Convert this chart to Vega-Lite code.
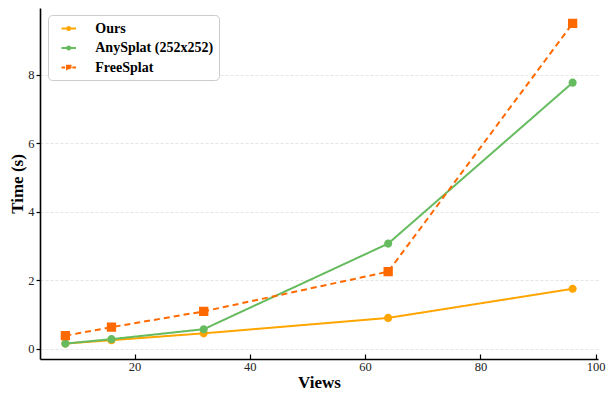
{
  "$schema": "https://vega.github.io/schema/vega-lite/v6.json",
  "autosize": "none",
  "width": 558,
  "height": 351,
  "padding": {"left": 40, "top": 8, "right": 10, "bottom": 35},
  "background": "white",
  "config": {
    "font": "Liberation Serif",
    "view": {"stroke": null}
  },
  "data": {
    "values": [
      {"views": 8, "time": 0.15, "method": "Ours"},
      {"views": 16, "time": 0.25, "method": "Ours"},
      {"views": 32, "time": 0.45, "method": "Ours"},
      {"views": 64, "time": 0.9, "method": "Ours"},
      {"views": 96, "time": 1.75, "method": "Ours"},
      {"views": 8, "time": 0.15, "method": "AnySplat (252x252)"},
      {"views": 16, "time": 0.28, "method": "AnySplat (252x252)"},
      {"views": 32, "time": 0.57, "method": "AnySplat (252x252)"},
      {"views": 64, "time": 3.07, "method": "AnySplat (252x252)"},
      {"views": 96, "time": 7.77, "method": "AnySplat (252x252)"},
      {"views": 8, "time": 0.38, "method": "FreeSplat"},
      {"views": 16, "time": 0.63, "method": "FreeSplat"},
      {"views": 32, "time": 1.09, "method": "FreeSplat"},
      {"views": 64, "time": 2.25, "method": "FreeSplat"},
      {"views": 96, "time": 9.5, "method": "FreeSplat"}
    ]
  },
  "encoding": {
    "x": {
      "field": "views", "type": "quantitative",
      "scale": {"domain": [3.6, 100.4], "nice": false, "zero": false},
      "axis": {
        "title": "Views", "titleFontSize": 17, "titleFontWeight": "bold", "titleColor": "black", "titlePadding": 2,
        "values": [20, 40, 60, 80, 100], "grid": false,
        "domainColor": "black", "domainWidth": 1.6,
        "tickColor": "black", "tickSize": -5, "tickWidth": 1.2,
        "labelFontSize": 12.5, "labelColor": "#222", "labelPadding": 6, "labelFlush": false
      }
    },
    "y": {
      "field": "time", "type": "quantitative",
      "scale": {"domain": [-0.3, 9.95], "nice": false, "zero": false},
      "axis": {
        "title": "Time (s)", "titleFontSize": 17, "titleFontWeight": "bold", "titleColor": "black", "titlePadding": 1,
        "values": [0, 2, 4, 6, 8],
        "grid": true, "gridDash": [3, 2], "gridColor": "#dddddd", "gridWidth": 0.8,
        "domainColor": "black", "domainWidth": 1.6,
        "tickColor": "black", "tickSize": 4, "tickWidth": 1.2,
        "labelFontSize": 12.5, "labelColor": "#222", "labelPadding": 2
      }
    },
    "color": {
      "field": "method", "type": "nominal",
      "scale": {"domain": ["Ours", "AnySplat (252x252)", "FreeSplat"], "range": ["#FFA500", "#66BB5F", "#FF6A00"]},
      "legend": {
        "title": null, "orient": "none", "legendX": 8, "legendY": 7,
        "labelFont": "Liberation Serif", "labelFontSize": 14, "labelFontWeight": "bold", "labelColor": "black",
        "symbolSize": 210, "symbolStrokeWidth": 2, "symbolOffset": 7.25, "labelOffset": 18,
        "padding": 5, "rowPadding": 3.5,
        "fillColor": "white", "strokeColor": "#cccccc", "cornerRadius": 4,
        "encode": {
          "symbols": {
            "update": {
              "stroke": {"scale": "color", "field": "value"},
              "fill": {"scale": "color", "field": "value"},
              "strokeWidth": {"value": 2},
              "strokeDash": {"value": []},
              "opacity": {"value": 1},
              "size": {"value": 210}
            }
          }
        }
      }
    }
  },
  "layer": [
    {
      "mark": {"type": "line", "strokeWidth": 2},
      "encoding": {
        "strokeDash": {
          "field": "method", "type": "nominal",
          "scale": {"domain": ["Ours", "AnySplat (252x252)", "FreeSplat"], "range": [[1, 0], [1, 0], [6, 4]]},
          "legend": null
        }
      }
    },
    {
      "mark": {"type": "point", "filled": true, "opacity": 1},
      "encoding": {
        "shape": {
          "field": "method", "type": "nominal",
          "scale": {"domain": ["Ours", "AnySplat (252x252)", "FreeSplat"], "range": [
            "M -1 0 L -0.21 0 M 0.21 0 L 1 0 M 0.21 0 A 0.21 0.21 0 1 1 -0.21 0 A 0.21 0.21 0 1 1 0.21 0",
            "M -1 0 L -0.21 0 M 0.21 0 L 1 0 M 0.21 0 A 0.21 0.21 0 1 1 -0.21 0 A 0.21 0.21 0 1 1 0.21 0",
            "M -1 0 L -0.5 0 M 0.5 0 L 1 0 M -0.24 -0.24 L 0.24 -0.24 L 0.24 0.24 L -0.24 0.24 Z"
          ]},
          "legend": {"title": null}
        },
        "size": {"value": 1500}
      }
    }
  ]
}
